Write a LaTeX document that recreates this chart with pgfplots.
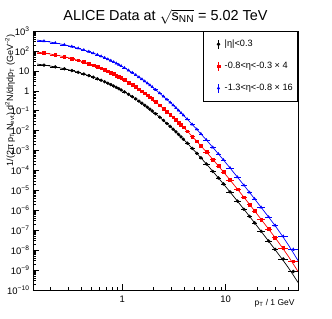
\documentclass[border=0pt]{standalone}
\usepackage{fontspec}
\setmainfont{Liberation Sans}
\usepackage{pgfplots}
\pgfplotsset{compat=1.18}
\usepackage{pgfplotstable}

% columns: pT, half bin width, value, relative y error
\pgfplotstableread{
pt ex y ey
0.175 0.025 19.57 0.03
0.225 0.025 15.74 0.03
0.275 0.025 12.74 0.03
0.325 0.025 10.37 0.03
0.375 0.025 8.49 0.03
0.425 0.025 6.99 0.03
0.475 0.025 5.78 0.03
0.525 0.025 4.81 0.03
0.575 0.025 4.01 0.03
0.625 0.025 3.37 0.03
0.675 0.025 2.84 0.03
0.725 0.025 2.40 0.03
0.775 0.025 2.04 0.03
0.825 0.025 1.736 0.03
0.875 0.025 1.484 0.03
0.925 0.025 1.274 0.03
0.975 0.025 1.096 0.03
1.05 0.05 0.880 0.03
1.15 0.05 0.664 0.03
1.25 0.05 0.506 0.03
1.35 0.05 0.389 0.03
1.45 0.05 0.302 0.03
1.55 0.05 0.237 0.03
1.65 0.05 0.1871 0.03
1.75 0.05 0.1489 0.03
1.85 0.05 0.1193 0.03
1.95 0.05 0.0962 0.03
2.1 0.1 0.0705 0.03
2.3 0.1 0.0475 0.03
2.5 0.1 0.0327 0.03
2.7 0.1 0.0229 0.03
2.9 0.1 0.01632 0.03
3.1 0.1 0.01181 0.03
3.3 0.1 0.00866 0.03
3.5 0.1 0.00644 0.03
3.7 0.1 0.00484 0.03
3.9 0.1 0.00368 0.03
4.25 0.25 0.00233 0.03
4.75 0.25 0.001272 0.03
5.25 0.25 7.28e-4 0.03
5.75 0.25 4.34e-4 0.03
6.5 0.5 2.125e-4 0.03
7.5 0.5 9.05e-5 0.03
8.5 0.5 4.22e-5 0.03
9.5 0.5 2.12e-5 0.03
11 1 8.41e-6 0.06
13 1 2.88e-6 0.06
15 1 1.131e-6 0.06
17 1 4.95e-7 0.06
19 1 2.36e-7 0.06
22 2 8.81e-8 0.08
26 2 2.9e-8 0.10
30 2 1.1e-8 0.12
36 4 3.6e-9 0.15
45 5 8.5e-10 0.20
}\blackdata

\pgfplotstableread{
pt ex y ey
0.175 0.025 78.3 0.03
0.225 0.025 62.96 0.03
0.275 0.025 50.96 0.03
0.325 0.025 41.48 0.03
0.375 0.025 33.96 0.03
0.425 0.025 27.96 0.03
0.475 0.025 23.12 0.03
0.525 0.025 19.24 0.03
0.575 0.025 16.04 0.03
0.625 0.025 13.48 0.03
0.675 0.025 11.36 0.03
0.725 0.025 9.60 0.03
0.775 0.025 8.16 0.03
0.825 0.025 6.944 0.03
0.875 0.025 5.936 0.03
0.925 0.025 5.096 0.03
0.975 0.025 4.384 0.03
1.05 0.05 3.52 0.03
1.15 0.05 2.656 0.03
1.25 0.05 2.024 0.03
1.35 0.05 1.556 0.03
1.45 0.05 1.208 0.03
1.55 0.05 0.948 0.03
1.65 0.05 0.7484 0.03
1.75 0.05 0.5956 0.03
1.85 0.05 0.4772 0.03
1.95 0.05 0.3848 0.03
2.1 0.1 0.282 0.03
2.3 0.1 0.19 0.03
2.5 0.1 0.1308 0.03
2.7 0.1 0.0916 0.03
2.9 0.1 0.06528 0.03
3.1 0.1 0.04724 0.03
3.3 0.1 0.03464 0.03
3.5 0.1 0.02576 0.03
3.7 0.1 0.01936 0.03
3.9 0.1 0.01472 0.03
4.25 0.25 0.00932 0.03
4.75 0.25 0.005088 0.03
5.25 0.25 2.912e-3 0.03
5.75 0.25 1.736e-3 0.03
6.5 0.5 8.5e-4 0.03
7.5 0.5 3.62e-4 0.03
8.5 0.5 1.688e-4 0.03
9.5 0.5 8.48e-5 0.03
11 1 3.364e-5 0.06
13 1 1.152e-5 0.06
15 1 4.524e-6 0.06
17 1 1.98e-6 0.06
19 1 9.44e-7 0.06
22 2 3.524e-7 0.08
26 2 1.16e-7 0.10
30 2 4.4e-8 0.12
36 4 1.3e-8 0.15
45 5 2.8e-9 0.20
}\reddata

\pgfplotstableread{
pt ex y ey
0.175 0.025 313.1 0.03
0.225 0.025 251.8 0.03
0.275 0.025 203.8 0.03
0.325 0.025 165.9 0.03
0.375 0.025 135.8 0.03
0.425 0.025 111.8 0.03
0.475 0.025 92.48 0.03
0.525 0.025 76.96 0.03
0.575 0.025 64.16 0.03
0.625 0.025 53.92 0.03
0.675 0.025 45.44 0.03
0.725 0.025 38.40 0.03
0.775 0.025 32.64 0.03
0.825 0.025 27.78 0.03
0.875 0.025 23.74 0.03
0.925 0.025 20.38 0.03
0.975 0.025 17.54 0.03
1.05 0.05 14.08 0.03
1.15 0.05 10.62 0.03
1.25 0.05 8.096 0.03
1.35 0.05 6.224 0.03
1.45 0.05 4.832 0.03
1.55 0.05 3.792 0.03
1.65 0.05 2.994 0.03
1.75 0.05 2.382 0.03
1.85 0.05 1.909 0.03
1.95 0.05 1.539 0.03
2.1 0.1 1.128 0.03
2.3 0.1 0.76 0.03
2.5 0.1 0.5232 0.03
2.7 0.1 0.3664 0.03
2.9 0.1 0.2611 0.03
3.1 0.1 0.189 0.03
3.3 0.1 0.1386 0.03
3.5 0.1 0.103 0.03
3.7 0.1 0.07744 0.03
3.9 0.1 0.05888 0.03
4.25 0.25 0.03728 0.03
4.75 0.25 0.02035 0.03
5.25 0.25 1.165e-2 0.03
5.75 0.25 6.944e-3 0.03
6.5 0.5 3.4e-3 0.03
7.5 0.5 1.448e-3 0.03
8.5 0.5 6.752e-4 0.03
9.5 0.5 3.392e-4 0.03
11 1 1.346e-4 0.06
13 1 4.608e-5 0.06
15 1 1.81e-5 0.06
17 1 7.92e-6 0.06
19 1 3.776e-6 0.06
22 2 1.41e-6 0.08
26 2 4.6e-7 0.10
30 2 1.75e-7 0.12
36 4 5.0e-8 0.15
45 5 1.1e-8 0.20
}\bluedata

% fit curves: pT, black, red, blue
\pgfplotstableread{
pt b r u
0.15 21.89 87.56 350.2
0.2 17.53 70.12 280.5
0.3 11.48 45.92 183.7
0.5 5.27 21.08 84.32
0.7 2.609 10.44 41.74
1 1.018 4.072 16.29
1.5 0.2674 1.07 4.278
2 0.0866 0.3464 1.386
3 0.01385 0.0554 0.2216
4 0.003220 0.01288 0.05152
5 9.57e-4 3.828e-3 0.01531
7 1.369e-4 5.476e-4 2.19e-3
10 1.536e-5 6.144e-5 2.458e-4
15 1.131e-6 4.524e-6 1.81e-5
20 1.673e-7 6.692e-7 2.677e-6
30 1.064e-8 4.256e-8 1.702e-7
40 1.40e-9 5.2e-9 1.95e-8
50 2.4e-10 8.5e-10 3.0e-9
}\fitdata

\begin{document}
\begin{tikzpicture}[x=1bp,y=1bp]
\useasboundingbox (-33,-29) rectangle (299,290);
\begin{axis}[
  at={(0,0)}, anchor=south west,
  scale only axis, width=265bp, height=259bp,
  xmode=log, ymode=log,
  xmin=0.137, xmax=50, ymin=1e-10, ymax=1e3,
  xtick={1,10}, xticklabels={1,10},
  minor xtick={0.2,0.3,0.4,0.5,0.6,0.7,0.8,0.9,2,3,4,5,6,7,8,9,20,30,40},
  ytick={1e-10,1e-9,1e-8,1e-7,1e-6,1e-5,1e-4,1e-3,1e-2,1e-1,1,10,100,1000},
  yticklabels={10\textsuperscript{−10},10\textsuperscript{−9},10\textsuperscript{−8},10\textsuperscript{−7},10\textsuperscript{−6},10\textsuperscript{−5},10\textsuperscript{−4},10\textsuperscript{−3},10\textsuperscript{−2},10\textsuperscript{−1},1,10,10\textsuperscript{2},10\textsuperscript{3}},
  tick pos=left, tick align=inside,
  major tick length=6bp, minor tick length=3bp,
  every tick/.style={black, line width=0.5bp},
  ticklabel style={font=\fontsize{9.5}{10}\selectfont},
  xticklabel style={yshift=-2bp},
  axis line style={line width=0.7bp},
  legend style={at={(1,1)}, anchor=north east, draw=black, line width=0.5bp,
    font=\fontsize{9.2}{10}\selectfont, inner xsep=3bp, inner ysep=7bp, row sep=10bp},
  legend cell align=left,
  legend image code/.code={
    \path (-12bp,0bp) (4bp,0bp);
    \draw[#1, mark=none, line width=0.6bp] (0bp,-4.5bp) -- (0bp,4.5bp);
    \path[#1] plot coordinates {(0bp,0bp)};
  },
  error bars/error mark=none,
]
\addplot[black, only marks, mark=*, mark size=1.5bp,
  error bars/.cd, x dir=both, x explicit, y dir=both, y explicit relative,
  error bar style={line width=0.5bp}]
  table[x=pt, y=y, x error=ex, y error=ey] {\blackdata};
\addlegendentry{|η|<0.3}
\addplot[red, only marks, mark=square*, mark size=1.4bp,
  error bars/.cd, x dir=both, x explicit, y dir=both, y explicit relative,
  error bar style={line width=0.5bp}]
  table[x=pt, y=y, x error=ex, y error=ey] {\reddata};
\addlegendentry{-0.8<η<-0.3 × 4}
\addplot[blue, only marks, mark=triangle*, mark size=1.5bp,
  error bars/.cd, x dir=both, x explicit, y dir=both, y explicit relative,
  error bar style={line width=0.5bp}]
  table[x=pt, y=y, x error=ex, y error=ey] {\bluedata};
\addlegendentry{-1.3<η<-0.8 × 16}

\addplot[black, line width=0.7bp, smooth, forget plot] table[x=pt, y=b] {\fitdata};
\addplot[red, line width=0.7bp, smooth, forget plot] table[x=pt, y=r] {\fitdata};
\addplot[blue, line width=0.7bp, smooth, forget plot] table[x=pt, y=u] {\fitdata};
\end{axis}
\node[inner sep=0pt, font=\fontsize{14.5}{17}\selectfont] at (132.5,273) {ALICE Data at $\sqrt{\mbox{s\textsubscript{NN}}}$ = 5.02 TeV};
\node[rotate=90, anchor=east, font=\fontsize{9}{10}\selectfont] at (-23,259)
  {1/(2π p\textsubscript{T} N\textsubscript{evt}) d\textsuperscript{2}N/dηdp\textsubscript{T} (GeV\textsuperscript{−2})};
\node[anchor=east, font=\fontsize{8.5}{10}\selectfont] at (265,-13) {p\textsubscript{T} / 1 GeV};
\end{tikzpicture}
\end{document}
